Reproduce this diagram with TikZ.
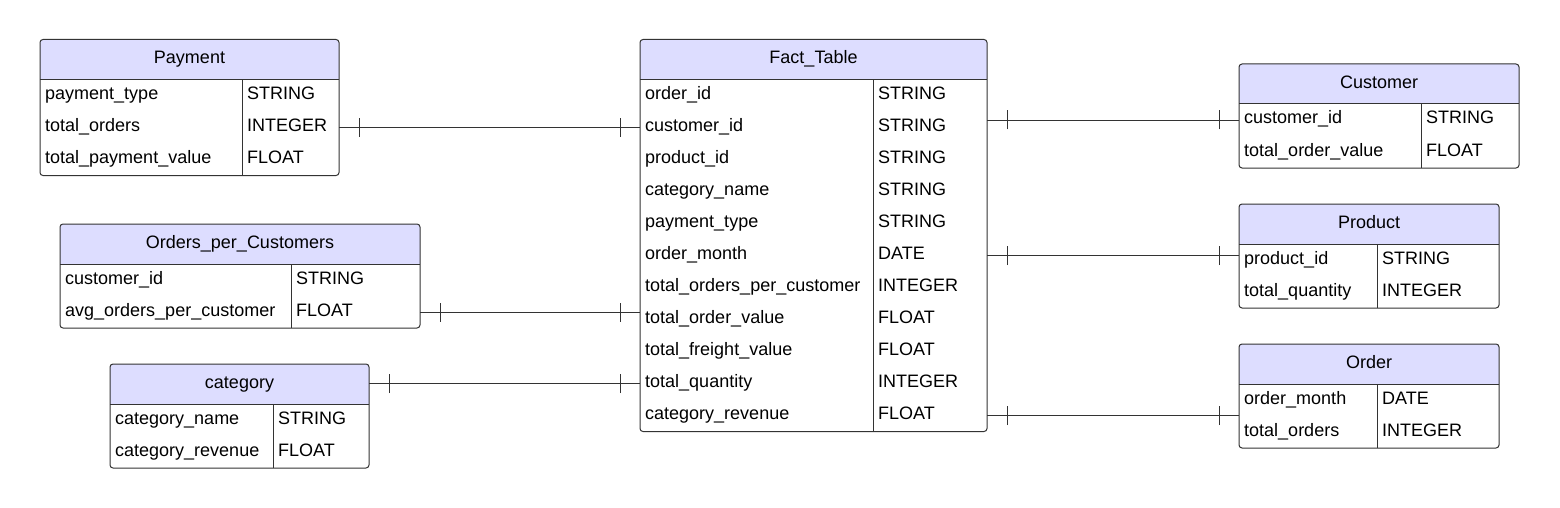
\documentclass[tikz,border=0pt]{standalone}
\usepackage{fontspec}
\setmainfont{Liberation Sans}
\usetikzlibrary{decorations.markings}
\definecolor{hdr}{RGB}{221,221,255}
\definecolor{edge}{RGB}{51,51,51}
\tikzset{
  hdrfill/.style={fill=hdr},
  tframe/.style={draw=edge, line width=1pt, rounded corners=3pt, inner sep=0pt, outer sep=0pt, rectangle},
  tline/.style={draw=edge, line width=1pt},
  rowtext/.style={anchor=west, inner sep=0pt, text height=12pt, text depth=4pt, font=\fontsize{18}{21.6}\selectfont},
  hdrtext/.style={anchor=center, inner sep=0pt, text height=13pt, text depth=4pt, font=\fontsize{18}{21.6}\selectfont},
  rel/.style={draw=edge, line width=0.9pt,
    decoration={markings,
      mark=at position 20pt with {\draw[edge, line width=0.9pt] (0,-9.5pt) -- (0,9.5pt);},
      mark=at position -20pt with {\draw[edge, line width=0.9pt] (0,-9.5pt) -- (0,9.5pt);}},
    postaction={decorate}},
}
% #1 name, #2 x1, #3 x2, #4 xdiv, #5 top, #6 title, #7 rows
\newcommand\ertable[7]{%
  \pgfmathsetmacro\hy{#5+40}%
  \gdef\nrows{0}%
  \foreach \n/\t [count=\i] in {#7} {\xdef\nrows{\i}}%
  \pgfmathsetmacro\by{\hy+32*\nrows}%
  \fill[hdrfill] (#2,\hy) {[rounded corners=3pt] -- (#2,#5) -- (#3,#5)} -- (#3,\hy) -- cycle;
  \node[tframe, minimum width={(#3-#2)*1pt}, minimum height={(\by-#5)*1pt}, anchor=north west] (#1) at (#2,#5) {};
  \draw[tline] (#2,\hy) -- (#3,\hy);
  \draw[tline] (#4,\hy) -- (#4,\by);
  \node[hdrtext] (#1-h) at ({(#2+#3)/2},{#5+20}) {#6};
  \foreach \n/\t [count=\i] in {#7} {
    \node[rowtext] (#1-n\i) at ({#2+5},{\hy+32*\i-16}) {\n};
    \node[rowtext] (#1-t\i) at ({#4+5},{\hy+32*\i-16}) {\t};
  }%
}
\begin{document}
\begin{tikzpicture}[x=1pt,y=-1pt]
\fill[white] (0,0) rectangle (1560,508);
\useasboundingbox (0,0) rectangle (1560,508);

\ertable{pay}{40}{339}{242}{39.5}{Payment}{payment\_type/STRING, total\_orders/INTEGER, total\_payment\_value/FLOAT}
\ertable{fact}{640}{987}{873}{39.5}{Fact\_Table}{order\_id/STRING, customer\_id/STRING, product\_id/STRING, category\_name/STRING, payment\_type/STRING, order\_month/DATE, total\_orders\_per\_customer/INTEGER, total\_order\_value/FLOAT, total\_freight\_value/FLOAT, total\_quantity/INTEGER, category\_revenue/FLOAT}
\ertable{cust}{1239}{1519}{1421}{64}{Customer}{customer\_id/STRING, total\_order\_value/FLOAT}
\ertable{prod}{1239}{1499}{1377}{204}{Product}{product\_id/STRING, total\_quantity/INTEGER}
\ertable{ord}{1239}{1499}{1377}{344}{Order}{order\_month/DATE, total\_orders/INTEGER}
\ertable{opc}{60}{420}{291}{224}{Orders\_per\_Customers}{customer\_id/STRING, avg\_orders\_per\_customer/FLOAT}
\ertable{cat}{110}{369}{273}{364}{category}{category\_name/STRING, category\_revenue/FLOAT}

\draw[rel] (pay.east |- pay-n2) -- (fact.west |- pay-n2);
\draw[rel] (opc.east |- opc-n2) -- (fact.west |- opc-n2);
\draw[rel] (cat.east |- fact-n10) -- (fact.west |- fact-n10);
\draw[rel] (fact.east |- cust-n1) -- (cust.west |- cust-n1);
\draw[rel] (fact.east |- fact-n6) -- (prod.west |- fact-n6);
\draw[rel] (fact.east |- fact-n11) -- (ord.west |- fact-n11);
\end{tikzpicture}
\end{document}
